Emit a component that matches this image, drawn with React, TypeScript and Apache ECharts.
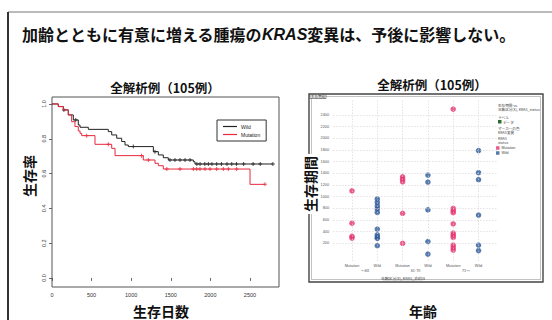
import React, { useEffect, useRef } from "react";
import * as echarts from "echarts";

// ---- Kaplan-Meier data (left chart) ----
const wildTimes = [0, 80, 143, 206, 269, 332, 354, 459, 711, 754, 817, 880, 922, 964, 1280, 1343, 1406, 1469, 1785, 1806, 2790];
const wildSurv = [1.0, 0.985, 0.966, 0.937, 0.908, 0.879, 0.866, 0.854, 0.841, 0.822, 0.803, 0.784, 0.764, 0.755, 0.726, 0.707, 0.691, 0.678, 0.668, 0.655, 0.655];
const mutTimes = [0, 80, 143, 206, 248, 290, 332, 354, 375, 543, 754, 796, 1153, 1301, 1343, 1406, 2501, 2690];
const mutSurv = [1.0, 0.985, 0.966, 0.937, 0.898, 0.87, 0.845, 0.831, 0.818, 0.768, 0.745, 0.703, 0.678, 0.659, 0.645, 0.626, 0.538, 0.538];
const wildCensor = [150, 300, 1027, 1300, 1490, 1553, 1617, 1680, 1743, 1830, 1870, 1930, 1975, 2020, 2080, 2140, 2210, 2270, 2330, 2420, 2540, 2630, 2790];
const mutCensor = [438, 711, 1132, 1217, 1450, 1617, 1785, 1827, 1869, 1932, 1996, 2080, 2164, 2227, 2332, 2690];
const kmXTicks = [0, 500, 1000, 1500, 2000, 2500];
const kmYTicks = [0, 0.2, 0.4, 0.6, 0.8, 1.0];

// ---- Scatter data (right chart) ----
const scatterCats = ["Mutation", "Wild", "Mutation", "Wild", "Mutation", "Wild"];
const ageGroups = ["〜60", "61-70", "71〜"];
const mutYoung = [1100, 545, 320, 290];
const wildYoung = [960, 900, 840, 790, 730, 445, 345, 310, 285, 160];
const mutMid = [1340, 1300, 1255, 715, 200];
const wildMid = [1370, 1250, 775, 230, 15];
const mutOld = [2500, 800, 760, 725, 535, 375, 340, 300, 170, 125, 85];
const wildOld = [1790, 1410, 1290, 685, 170, 75];
const scYTicks = [200, 400, 600, 800, 1000, 1200, 1400, 1600, 1800, 2000, 2200, 2400];

const CJK = "'Noto Sans CJK JP', sans-serif";
const SANS = "'Liberation Sans', Arial, sans-serif";
const RED = "#e8283c";
const PINK = "#e6336d";
const BLUE = "#2d5a98";

const stepAt = (times: number[], surv: number[], t: number) => {
  let v = surv[0];
  for (let i = 0; i < times.length; i++) if (times[i] <= t) v = surv[i];
  return v;
};

const plusSym = "path://M3,0H5V8H3ZM0,3H8V5H0Z";

export default function App() {
  const ref = useRef<HTMLDivElement>(null);
  useEffect(() => {
    if (!ref.current) return;
    const chart = echarts.init(ref.current, null, { renderer: "svg" });

    const wildLine = wildTimes.map((t, i) => [t, wildSurv[i]]);
    const mutLine = mutTimes.map((t, i) => [t, mutSurv[i]]);
    const wildCens = wildCensor.map((t) => [t, stepAt(wildTimes, wildSurv, t)]);
    const mutCens = mutCensor.map((t) => [t, stepAt(mutTimes, mutSurv, t)]);

    const colsMut = [mutYoung, mutMid, mutOld];
    const colsWild = [wildYoung, wildMid, wildOld];
    const mutPts: number[][] = [];
    const wildPts: number[][] = [];
    colsMut.forEach((arr, g) => arr.forEach((v) => mutPts.push([g * 2, v])));
    colsWild.forEach((arr, g) => arr.forEach((v) => wildPts.push([g * 2 + 1, v])));

    const gridLineStyle = { color: "#d6cfd6", width: 0.6, type: [1.5, 1.5] as any };

    const graphic: any[] = [
      // slide frame
      { type: "line", shape: { x1: 8, y1: 12, x2: 552, y2: 12 }, style: { stroke: "#777", lineWidth: 1 } },
      { type: "line", shape: { x1: 8, y1: 12, x2: 8, y2: 320 }, style: { stroke: "#333", lineWidth: 2 } },
      // main title
      {
        type: "text", x: 22, y: 34,
        style: {
          text: "加齢とともに有意に増える腫瘍の{i|KRAS}変異は、予後に影響しない。",
          font: `bold 16px ${CJK}`, fill: "#111", verticalAlign: "middle",
          rich: { i: { fontStyle: "italic", fontWeight: "bold", fontSize: 16, fontFamily: "'Liberation Sans', Arial, sans-serif" } },
        },
      },
      // left chart titles
      { type: "text", x: 165, y: 87, style: { text: "全解析例（105例）", font: `bold 12.5px ${CJK}`, fill: "#111", align: "center", verticalAlign: "middle" } },
      { type: "text", x: 161, y: 311, style: { text: "生存日数", font: `bold 14px ${CJK}`, fill: "#111", align: "center", verticalAlign: "middle" } },
      { type: "text", x: 29, y: 176, rotation: Math.PI / 2, style: { text: "生存率", font: `bold 14px ${CJK}`, fill: "#111", align: "center", verticalAlign: "middle" } },
      // right chart frame
      { type: "rect", shape: { x: 309, y: 94, width: 234, height: 188 }, style: { fill: "none", stroke: "#444", lineWidth: 1.4 } },
      { type: "rect", shape: { x: 311.5, y: 96.5, width: 229, height: 183 }, style: { fill: "none", stroke: "#999", lineWidth: 0.6 } },
      { type: "rect", shape: { x: 310, y: 94.5, width: 16, height: 4 }, style: { fill: "#fff", stroke: "#444", lineWidth: 0.6 } },
      { type: "text", x: 318, y: 96.6, style: { text: "生存期間", font: `3.5px ${CJK}`, fill: "#222", align: "center", verticalAlign: "middle" } },
      { type: "text", x: 432, y: 84, style: { text: "全解析例（105例）", font: `bold 12.5px ${CJK}`, fill: "#111", align: "center", verticalAlign: "middle" } },
      { type: "text", x: 423, y: 311, style: { text: "年齢", font: `bold 14px ${CJK}`, fill: "#111", align: "center", verticalAlign: "middle" } },
      {
        type: "text", x: 309.5, y: 184, rotation: Math.PI / 2,
        style: { text: "生存期間", font: `bold 14px ${CJK}`, fill: "#111", align: "center", verticalAlign: "middle", backgroundColor: "#fff", padding: [0, 2] },
      },
      // right x-axis group labels and axis title
      ...ageGroups.map((g, i) => ({
        type: "text", x: 365 + i * 50.5, y: 270,
        style: { text: g, font: `3.8px ${CJK}`, fill: "#555", align: "center", verticalAlign: "middle" },
      })),
      { type: "text", x: 403, y: 278, style: { text: "年齢区分(X), KRAS_status", font: `3.8px ${CJK}`, fill: "#444", align: "center", verticalAlign: "middle" } },
      { type: "line", shape: { x1: 383, y1: 280, x2: 423, y2: 280 }, style: { stroke: "#888", lineWidth: 0.4 } },
      // right legend header texts
      { type: "text", x: 498, y: 105, style: { text: "生存期間 vs.", font: `3.6px ${CJK}`, fill: "#444", verticalAlign: "middle" } },
      { type: "text", x: 498, y: 109.5, style: { text: "年齢区分(X), KRAS_status", font: `3.6px ${CJK}`, fill: "#444", verticalAlign: "middle" } },
      { type: "text", x: 498, y: 117, style: { text: "ラベル", font: `3.6px ${CJK}`, fill: "#444", verticalAlign: "middle" } },
      { type: "rect", shape: { x: 498, y: 120, width: 3.5, height: 3.5 }, style: { fill: "#2e6b2e" } },
      { type: "text", x: 503, y: 122, style: { text: "データ", font: `3.6px ${CJK}`, fill: "#444", verticalAlign: "middle" } },
      { type: "text", x: 498, y: 128, style: { text: "マーカーの色", font: `3.6px ${CJK}`, fill: "#444", verticalAlign: "middle" } },
      { type: "text", x: 498, y: 132, style: { text: "KRAS変異", font: `3.6px ${CJK}`, fill: "#444", verticalAlign: "middle" } },
      { type: "text", x: 498, y: 138.5, style: { text: "KRAS", font: `3.6px ${CJK}`, fill: "#444", verticalAlign: "middle" } },
      { type: "text", x: 498, y: 142.5, style: { text: "status", font: `3.6px ${CJK}`, fill: "#444", verticalAlign: "middle" } },
    ];

    const option: any = {
      animation: false,
      backgroundColor: "#fff",
      graphic,
      legend: [
        {
          data: ["Wild", "Mutation"],
          left: 217, top: 120, orient: "vertical",
          icon: "rect", itemWidth: 14, itemHeight: 1.2, itemGap: 3,
          borderColor: "#333", borderWidth: 1, padding: [4, 6, 4, 6],
          backgroundColor: "#fff",
          textStyle: { fontSize: 5, fontFamily: SANS, color: "#222", padding: [0, 0, 0, -1] },
        },
        {
          data: [
            { name: "Mutation ", icon: "rect" },
            { name: "Wild ", icon: "rect" },
          ],
          left: 496, top: 146, orient: "vertical",
          itemWidth: 3.5, itemHeight: 3.5, itemGap: 1, padding: 0,
          textStyle: { fontSize: 3.6, fontFamily: SANS, color: "#444", padding: [0, 0, 0, -3] },
        },
      ],
      grid: [
        { left: 52, top: 97, width: 227, height: 190, show: true, borderColor: "#555", borderWidth: 1 },
        { left: 333, top: 100, width: 164, height: 161 },
      ],
      xAxis: [
        {
          gridIndex: 0, type: "value", min: 0, max: 2867,
          axisLine: { show: false },
          axisTick: { show: true, length: 3, customValues: kmXTicks, lineStyle: { color: "#444", width: 0.8 } },
          axisLabel: { customValues: kmXTicks, fontSize: 5.5, fontFamily: SANS, color: "#333", margin: 4.5, formatter: (v: number) => String(v) },
          splitLine: { show: false },
        },
        {
          gridIndex: 1, type: "value", min: -0.75, max: 5.73,
          axisLine: { show: false },
          axisTick: { show: false },
          axisLabel: {
            customValues: [0, 1, 2, 3, 4, 5], fontSize: 3.8, fontFamily: SANS, color: "#555", margin: 3,
            formatter: (v: number) => scatterCats[Math.round(v)] ?? "",
          },
          splitLine: { show: false },
        },
      ],
      yAxis: [
        {
          gridIndex: 0, type: "value", min: -0.052, max: 1.04,
          axisLine: { show: false },
          axisTick: { show: true, length: 3, customValues: kmYTicks, lineStyle: { color: "#444", width: 0.8 } },
          axisLabel: {
            customValues: kmYTicks, fontSize: 5.5, fontFamily: SANS, color: "#333", margin: 5, rotate: 90,
            formatter: (v: number) => v.toFixed(1),
          },
          splitLine: { show: false },
        },
        {
          gridIndex: 1, type: "value", min: -103, max: 2656,
          axisLine: { show: false },
          axisTick: { show: false },
          axisLabel: { customValues: scYTicks, fontSize: 3.8, fontFamily: SANS, color: "#555", margin: 4, formatter: (v: number) => String(v) },
          splitLine: { show: false },
        },
      ],
      series: [
        {
          name: "Wild", type: "line", step: "end", xAxisIndex: 0, yAxisIndex: 0,
          data: wildLine, showSymbol: false, color: "#222", lineStyle: { width: 1, color: "#222" },
        },
        {
          name: "Mutation", type: "line", step: "end", xAxisIndex: 0, yAxisIndex: 0,
          data: mutLine, showSymbol: false, color: RED, lineStyle: { width: 1, color: RED },
        },
        {
          name: "wild-censor", type: "scatter", xAxisIndex: 0, yAxisIndex: 0,
          data: wildCens, symbol: plusSym, symbolSize: 4, itemStyle: { color: "#222" },
        },
        {
          name: "mut-censor", type: "scatter", xAxisIndex: 0, yAxisIndex: 0,
          data: mutCens, symbol: plusSym, symbolSize: 4, itemStyle: { color: RED },
        },
        {
          name: "grid-lines", type: "line", xAxisIndex: 1, yAxisIndex: 1, data: [],
          markLine: {
            silent: true, symbol: "none", label: { show: false },
            lineStyle: gridLineStyle,
            data: [
              ...[0, 1, 2, 3, 4, 5].map((x) => ({ xAxis: x })),
              ...scYTicks.map((y) => ({ yAxis: y })),
            ],
          },
        },
        {
          name: "Mutation ", type: "scatter", xAxisIndex: 1, yAxisIndex: 1,
          data: mutPts, symbolSize: 5.5, itemStyle: { color: PINK },
        },
        {
          name: "Wild ", type: "scatter", xAxisIndex: 1, yAxisIndex: 1,
          data: wildPts, symbolSize: 5.5, itemStyle: { color: BLUE },
        },
      ],
    };
    chart.setOption(option);
    return () => chart.dispose();
  }, []);

  return (
    <div
      ref={ref}
      style={{ position: "absolute", left: 0, top: 0, width: 552, height: 320, background: "#fff" }}
    />
  );
}
